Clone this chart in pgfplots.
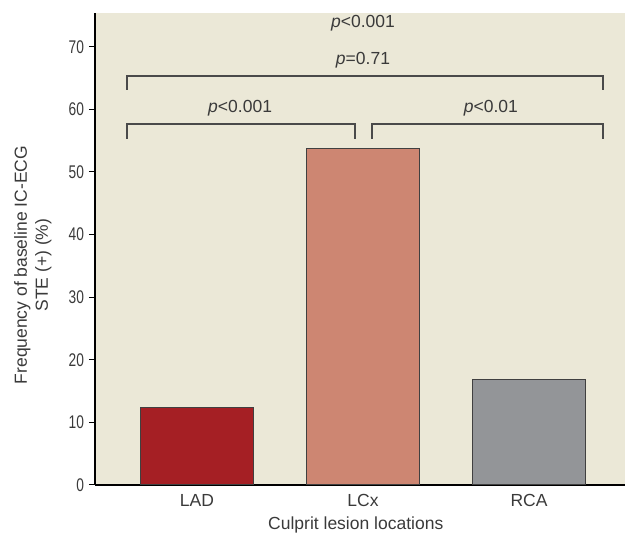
\documentclass[border=0pt]{standalone}
\usepackage{pgfplots}
\pgfplotsset{compat=1.18}
\usepackage{fontspec}
\setmainfont{Liberation Sans}
\newfontfamily\narrowfont[FakeStretch=0.75]{Liberation Sans}
\usetikzlibrary{calc}
\definecolor{bgc}{HTML}{EBE8D7}
\definecolor{ladc}{HTML}{A51F24}
\definecolor{lcxc}{HTML}{CD8672}
\definecolor{rcac}{HTML}{939598}
\definecolor{txt}{HTML}{3A3A3A}
\definecolor{brk}{HTML}{4A4A4A}
\begin{document}
\begin{tikzpicture}
\begin{axis}[
  scale only axis,
  width=318pt, height=283.2pt,
  xmin=-0.614, xmax=2.578,
  ymin=0, ymax=75.4,
  axis x line=bottom, axis y line=left,
  axis line style={-, line width=1.2pt, black},
  axis background/.style={fill=bgc},
  xtick={0,1,2}, xticklabels={LAD,LCx,RCA},
  x tick style={draw=none},
  ytick={0,10,...,70},
  y tick style={line width=0.6pt, black},
  tick align=outside,
  major tick length=3.6pt,
  yticklabel style={font=\narrowfont\fontsize{11}{12}\selectfont, text=txt, xshift=0.5pt},
  xticklabel style={font=\fontsize{10.5}{12}\selectfont, text=txt, yshift=1.5pt},
  /pgf/number format/assume math mode=true,
  clip=false,
]
\addplot[ybar, bar width=0.68, bar shift=0, fill=ladc, draw=black!75, line width=0.6pt] coordinates {(0,12.4)};
\addplot[ybar, bar width=0.68, bar shift=0, fill=lcxc, draw=black!75, line width=0.6pt] coordinates {(1,53.8)};
\addplot[ybar, bar width=0.68, bar shift=0, fill=rcac, draw=black!75, line width=0.6pt] coordinates {(2,16.9)};
\addplot[brk, line width=1pt, no marks, forget plot] coordinates {(-0.42,55.3) (-0.42,57.7) (0.95,57.7) (0.95,55.3)};
\addplot[brk, line width=1pt, no marks, forget plot] coordinates {(1.054,55.3) (1.054,57.7) (2.446,57.7) (2.446,55.3)};
\addplot[brk, line width=1pt, no marks, forget plot] coordinates {(-0.42,63.1) (-0.42,65.3) (2.446,65.3) (2.446,63.1)};
\node[text=txt, font=\fontsize{10.5}{12}\selectfont] at (axis cs:0.26,60.2) {\textit{p}<0.001};
\node[text=txt, font=\fontsize{10.5}{12}\selectfont] at (axis cs:1.77,60.2) {\textit{p}<0.01};
\node[text=txt, font=\fontsize{10.5}{12}\selectfont] at (axis cs:1,67.8) {\textit{p}=0.71};
\node[text=txt, font=\fontsize{10.5}{12}\selectfont] at (axis cs:1,73.8) {\textit{p}<0.001};
\node[text=txt, font=\fontsize{10.5}{12.5}\selectfont, rotate=90, align=center, anchor=north, inner sep=0pt] at (rel axis cs:-0.153,0.466) {Frequency of baseline IC-ECG\\STE (+) (\%)};
\node[text=txt, font=\fontsize{10.5}{12}\selectfont] at (rel axis cs:0.492,-0.085) {Culprit lesion locations};
\coordinate (bl) at (rel axis cs:0,0);
\coordinate (tr) at (rel axis cs:1,1);
\end{axis}
\pgfresetboundingbox
\path ($(bl)+(-57pt,-31.8pt)$) rectangle ($(tr)+(0,7.8pt)$);
\end{tikzpicture}
\end{document}
